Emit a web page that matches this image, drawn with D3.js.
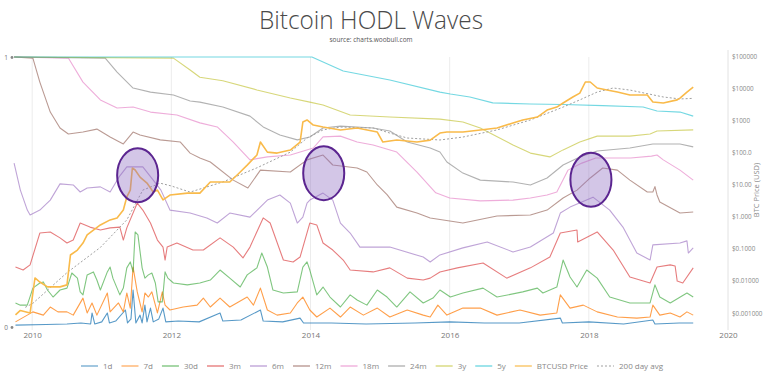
<!DOCTYPE html>
<html><head><meta charset="utf-8">
<script src="https://cdn.jsdelivr.net/npm/d3@7"></script>
<style>body{margin:0;background:#fff;}svg{display:block;font-family:"Open Sans",sans-serif;}</style>
</head><body><svg id="c" width="768" height="379"></svg>
<script>
// ---- data (decimal year, cumulative fraction of supply) ----
const d1d = [[2009.76,0.007],[2010.2,0.009],[2010.5,0.011],[2010.7,0.015],[2010.84,0.011],[2010.86,0.052],[2010.9,0.011],[2011.0,0.019],[2011.08,0.052],[2011.11,0.015],[2011.2,0.022],[2011.34,0.063],[2011.37,0.015],[2011.42,0.03],[2011.45,0.137],[2011.49,0.015],[2011.55,0.044],[2011.58,0.015],[2011.62,0.081],[2011.65,0.019],[2011.7,0.07],[2011.74,0.019],[2011.82,0.03],[2011.88,0.07],[2011.92,0.019],[2012.1,0.022],[2012.4,0.019],[2012.7,0.052],[2012.74,0.022],[2013.0,0.026],[2013.28,0.063],[2013.32,0.022],[2013.6,0.019],[2013.85,0.033],[2013.9,0.015],[2014.3,0.015],[2014.8,0.011],[2015.5,0.015],[2016.0,0.019],[2016.5,0.015],[2017.0,0.015],[2017.59,0.033],[2017.62,0.015],[2018.0,0.019],[2018.5,0.011],[2018.92,0.026],[2018.95,0.011],[2019.3,0.015],[2019.5,0.015]];
const d7d = [[2009.76,0.019],[2009.93,0.044],[2010.01,0.056],[2010.16,0.044],[2010.26,0.074],[2010.37,0.056],[2010.5,0.056],[2010.59,0.044],[2010.73,0.107],[2010.79,0.052],[2010.86,0.089],[2010.93,0.044],[2011.08,0.126],[2011.12,0.056],[2011.24,0.089],[2011.31,0.056],[2011.36,0.126],[2011.41,0.07],[2011.45,0.222],[2011.51,0.13],[2011.58,0.056],[2011.62,0.126],[2011.67,0.111],[2011.72,0.13],[2011.8,0.052],[2011.87,0.13],[2011.91,0.081],[2011.98,0.063],[2012.17,0.074],[2012.37,0.081],[2012.46,0.107],[2012.56,0.074],[2012.7,0.107],[2012.84,0.074],[2013.09,0.111],[2013.18,0.081],[2013.28,0.144],[2013.38,0.063],[2013.52,0.044],[2013.71,0.052],[2013.81,0.089],[2013.89,0.111],[2013.99,0.063],[2014.09,0.037],[2014.28,0.07],[2014.43,0.037],[2014.57,0.074],[2014.76,0.044],[2014.96,0.07],[2015.14,0.037],[2015.39,0.063],[2015.62,0.044],[2015.72,0.037],[2015.83,0.081],[2015.96,0.044],[2016.19,0.07],[2016.44,0.07],[2016.68,0.044],[2017.01,0.063],[2017.3,0.044],[2017.54,0.052],[2017.59,0.119],[2017.73,0.07],[2017.92,0.081],[2018.12,0.056],[2018.41,0.037],[2018.69,0.033],[2018.88,0.037],[2018.92,0.081],[2019.02,0.044],[2019.17,0.052],[2019.31,0.037],[2019.41,0.056],[2019.5,0.044]];
const d30d = [[2009.76,0.089],[2009.83,0.081],[2009.93,0.081],[2010.01,0.144],[2010.11,0.163],[2010.16,0.167],[2010.22,0.137],[2010.3,0.111],[2010.4,0.137],[2010.5,0.144],[2010.57,0.2],[2010.65,0.181],[2010.69,0.13],[2010.73,0.119],[2010.79,0.193],[2010.88,0.204],[2010.93,0.174],[2010.98,0.137],[2011.08,0.204],[2011.12,0.222],[2011.16,0.181],[2011.26,0.119],[2011.31,0.144],[2011.36,0.219],[2011.41,0.241],[2011.45,0.204],[2011.48,0.352],[2011.52,0.341],[2011.58,0.219],[2011.62,0.181],[2011.67,0.193],[2011.72,0.2],[2011.77,0.163],[2011.81,0.093],[2011.87,0.093],[2011.91,0.204],[2011.95,0.181],[2012.03,0.163],[2012.23,0.156],[2012.41,0.163],[2012.56,0.174],[2012.7,0.211],[2012.84,0.181],[2012.99,0.148],[2013.09,0.193],[2013.23,0.219],[2013.3,0.274],[2013.38,0.222],[2013.46,0.137],[2013.61,0.126],[2013.81,0.13],[2013.89,0.222],[2013.95,0.241],[2013.99,0.211],[2014.09,0.119],[2014.18,0.148],[2014.28,0.111],[2014.43,0.074],[2014.57,0.119],[2014.67,0.1],[2014.81,0.081],[2014.96,0.137],[2015.1,0.111],[2015.24,0.074],[2015.43,0.13],[2015.62,0.089],[2015.76,0.107],[2015.86,0.137],[2016.01,0.111],[2016.19,0.126],[2016.48,0.144],[2016.68,0.111],[2017.05,0.13],[2017.26,0.144],[2017.34,0.126],[2017.54,0.148],[2017.63,0.248],[2017.73,0.185],[2017.83,0.148],[2017.97,0.211],[2018.12,0.181],[2018.3,0.111],[2018.59,0.089],[2018.88,0.089],[2018.95,0.156],[2019.02,0.111],[2019.17,0.089],[2019.41,0.126],[2019.5,0.111]];
const d3m = [[2009.76,0.222],[2009.87,0.211],[2009.97,0.23],[2010.11,0.348],[2010.26,0.352],[2010.4,0.33],[2010.5,0.311],[2010.59,0.322],[2010.69,0.385],[2010.83,0.37],[2010.98,0.359],[2011.12,0.367],[2011.26,0.37],[2011.31,0.322],[2011.36,0.367],[2011.51,0.459],[2011.59,0.433],[2011.7,0.385],[2011.8,0.322],[2011.88,0.296],[2011.91,0.248],[2011.94,0.296],[2012.08,0.311],[2012.31,0.285],[2012.46,0.285],[2012.7,0.33],[2012.89,0.296],[2013.03,0.256],[2013.13,0.296],[2013.32,0.404],[2013.42,0.385],[2013.61,0.248],[2013.75,0.241],[2013.85,0.259],[2013.99,0.385],[2014.09,0.378],[2014.18,0.311],[2014.32,0.285],[2014.47,0.248],[2014.57,0.211],[2014.9,0.204],[2015.14,0.219],[2015.39,0.181],[2015.62,0.174],[2015.72,0.181],[2015.86,0.204],[2016.11,0.219],[2016.48,0.237],[2016.82,0.181],[2017.16,0.219],[2017.44,0.259],[2017.59,0.348],[2017.83,0.359],[2017.84,0.315],[2018.12,0.352],[2018.35,0.285],[2018.59,0.185],[2018.88,0.163],[2018.98,0.222],[2019.17,0.23],[2019.24,0.226],[2019.27,0.17],[2019.35,0.163],[2019.5,0.219]];
const d6m = [[2009.74,0.607],[2009.83,0.507],[2009.93,0.433],[2009.97,0.415],[2010.11,0.433],[2010.26,0.47],[2010.4,0.53],[2010.59,0.526],[2010.69,0.5],[2010.79,0.515],[2010.98,0.519],[2011.12,0.5],[2011.26,0.56],[2011.36,0.593],[2011.59,0.593],[2011.74,0.544],[2011.85,0.507],[2011.98,0.433],[2012.27,0.422],[2012.51,0.404],[2012.66,0.385],[2012.84,0.422],[2013.13,0.407],[2013.38,0.47],[2013.56,0.489],[2013.71,0.459],[2013.81,0.385],[2013.89,0.407],[2013.95,0.459],[2013.99,0.47],[2014.18,0.496],[2014.32,0.47],[2014.43,0.385],[2014.57,0.348],[2014.71,0.296],[2015.14,0.296],[2015.62,0.259],[2015.72,0.241],[2015.86,0.267],[2016.19,0.293],[2016.54,0.315],[2016.91,0.278],[2017.16,0.296],[2017.49,0.348],[2017.59,0.422],[2017.73,0.444],[2018.06,0.481],[2018.3,0.433],[2018.49,0.37],[2018.69,0.274],[2018.88,0.248],[2018.92,0.304],[2019.31,0.311],[2019.41,0.319],[2019.43,0.274],[2019.5,0.293]];
const d12m = [[2009.74,1],[2010.01,0.996],[2010.11,0.907],[2010.26,0.796],[2010.4,0.737],[2010.52,0.715],[2010.73,0.722],[2010.93,0.733],[2011.12,0.704],[2011.31,0.678],[2011.45,0.722],[2011.55,0.711],[2011.84,0.693],[2012.13,0.685],[2012.27,0.644],[2012.41,0.626],[2012.56,0.611],[2012.89,0.544],[2013.1,0.515],[2013.28,0.581],[2013.71,0.574],[2013.95,0.619],[2014.18,0.637],[2014.32,0.6],[2014.67,0.589],[2014.81,0.574],[2014.96,0.526],[2015.1,0.49],[2015.24,0.444],[2015.53,0.422],[2015.72,0.404],[2016.19,0.385],[2016.68,0.411],[2017.16,0.415],[2017.4,0.433],[2017.63,0.478],[2017.83,0.507],[2018.02,0.552],[2018.2,0.589],[2018.41,0.581],[2018.59,0.544],[2018.84,0.5],[2018.92,0.5],[2018.95,0.52],[2018.98,0.489],[2019.02,0.463],[2019.31,0.422],[2019.5,0.426]];
const d18m = [[2009.74,1],[2010.52,0.996],[2010.73,0.907],[2010.98,0.841],[2011.22,0.811],[2011.45,0.815],[2011.7,0.796],[2012.08,0.785],[2012.41,0.756],[2012.66,0.741],[2012.89,0.685],[2013.13,0.619],[2013.38,0.63],[2013.71,0.637],[2014.04,0.663],[2014.18,0.704],[2014.43,0.707],[2014.67,0.685],[2014.9,0.674],[2015.24,0.648],[2015.53,0.574],[2015.8,0.497],[2016.0,0.478],[2016.44,0.467],[2016.91,0.47],[2017.16,0.478],[2017.4,0.489],[2017.54,0.5],[2017.7,0.581],[2017.9,0.607],[2018.1,0.626],[2018.6,0.626],[2018.9,0.633],[2018.98,0.637],[2019.07,0.619],[2019.31,0.581],[2019.5,0.544]];
const d24m = [[2009.74,1],[2011.05,0.996],[2011.22,0.944],[2011.45,0.885],[2011.7,0.87],[2012.03,0.859],[2012.27,0.837],[2012.41,0.833],[2012.74,0.815],[2013.13,0.781],[2013.32,0.741],[2013.56,0.711],[2013.81,0.693],[2013.99,0.704],[2014.18,0.737],[2014.43,0.744],[2014.9,0.737],[2015.14,0.726],[2015.39,0.685],[2015.72,0.663],[2015.86,0.648],[2015.96,0.611],[2016.19,0.57],[2016.44,0.544],[2016.91,0.537],[2017.16,0.526],[2017.4,0.552],[2017.63,0.6],[2017.87,0.63],[2018.12,0.652],[2018.59,0.663],[2018.92,0.678],[2019.31,0.678],[2019.5,0.667]];
const d3y = [[2009.74,1],[2012.03,0.996],[2012.27,0.952],[2012.41,0.925],[2012.74,0.912],[2013.23,0.878],[2013.71,0.848],[2013.99,0.833],[2014.18,0.822],[2014.57,0.785],[2015.14,0.778],[2015.86,0.77],[2016.19,0.759],[2016.44,0.737],[2016.91,0.674],[2017.16,0.644],[2017.44,0.63],[2017.63,0.656],[2017.87,0.685],[2018.12,0.707],[2018.59,0.707],[2018.88,0.715],[2018.98,0.726],[2019.5,0.73]];
const d5y = [[2009.74,1],[2014.02,1],[2014.47,0.948],[2015.14,0.915],[2015.86,0.87],[2016.01,0.863],[2016.29,0.852],[2016.62,0.83],[2017.16,0.826],[2017.63,0.824],[2018.2,0.82],[2018.78,0.815],[2018.98,0.8],[2019.31,0.796],[2019.5,0.781]];
// BTC price (USD) and its 200 day average
const btcPrice = [[2009.76,0.00087],[2009.83,0.0012],[2009.97,0.001],[2010.04,0.0123],[2010.11,0.0092],[2010.22,0.0065],[2010.4,0.0065],[2010.5,0.0075],[2010.55,0.064],[2010.65,0.091],[2010.73,0.15],[2010.79,0.27],[2010.88,0.38],[2010.98,0.55],[2011.12,0.79],[2011.22,0.91],[2011.31,1.6],[2011.36,4.1],[2011.41,6.7],[2011.44,32.6],[2011.48,28.3],[2011.55,17],[2011.65,11.1],[2011.74,5.8],[2011.8,6.7],[2011.88,3.3],[2011.98,4.7],[2012.23,5.4],[2012.41,5.4],[2012.56,12],[2012.84,12],[2012.99,24.5],[2013.09,40],[2013.23,83],[2013.28,210],[2013.38,102],[2013.52,95],[2013.71,118],[2013.85,210],[2013.89,880],[2013.95,1020],[2014.04,710],[2014.18,615],[2014.43,500],[2014.67,575],[2014.96,430],[2015.04,210],[2015.24,243],[2015.53,210],[2015.72,240],[2015.86,400],[2015.96,430],[2016.19,430],[2016.44,500],[2016.68,575],[2016.91,820],[2017.05,1020],[2017.26,1260],[2017.4,2080],[2017.54,2570],[2017.63,3450],[2017.77,5300],[2017.87,7000],[2017.95,15500],[2018.02,15500],[2018.12,10100],[2018.26,8700],[2018.41,7550],[2018.59,6100],[2018.84,6100],[2018.92,3700],[2019.07,3450],[2019.27,4300],[2019.31,4900],[2019.41,7550],[2019.5,10800]];
const avg200 = [[2009.9,0.0015],[2010.01,0.002],[2010.5,0.018],[2010.98,0.11],[2011.36,0.79],[2011.59,6.7],[2011.84,11],[2012.0,9],[2012.27,5.8],[2012.74,12],[2013.23,33],[2013.71,102],[2013.95,280],[2014.18,500],[2014.43,615],[2014.9,575],[2015.14,400],[2015.39,280],[2015.86,243],[2016.19,300],[2016.68,500],[2017.16,1020],[2017.63,2570],[2017.87,4300],[2018.12,7550],[2018.35,10100],[2018.59,8700],[2019.07,5300],[2019.31,4600],[2019.5,4800]];

const seriesNames = ["1d","7d","30d","3m","6m","12m","18m","24m","3y","5y"];
const seriesData = [d1d,d7d,d30d,d3m,d6m,d12m,d18m,d24m,d3y,d5y];
const seriesColors = ["#1f77b4","#ff7f0e","#2ca02c","#d62728","#9467bd","#8c564b","#e377c2","#7f7f7f","#bcbd22","#17becf"];
const xTicks = [2010,2012,2014,2016,2018,2020];
const priceTicks = [100000,10000,1000,100,10,1,0.1,0.01,0.001];
const priceTickLabels = ["$100000","$10000","$1000","$100.0","$10.00","$1.000","$0.1000","$0.01000","$0.001000"];
// highlighted regions: [year, price, half-width in years, half-height in decades]
const highlights = [[2011.516,19.3,0.295,0.84],[2014.19,22.5,0.295,0.84],[2018.03,14,0.295,0.84]];

const svg = d3.select("#c");
const x = d3.scaleLinear().domain([2009.71,2020]).range([12,728]);
const yL = d3.scaleLinear().domain([0,1]).range([327,57]);
const yR = d3.scaleLog().domain([0.001,100000]).range([313,56]);

// title
svg.append("text").attr("x",371).attr("y",29).attr("text-anchor","middle")
  .attr("font-size",25).attr("font-weight",300).attr("fill","#4a4a4a")
  .attr("textLength",224).attr("lengthAdjust","spacingAndGlyphs")
  .text("Bitcoin HODL Waves");
svg.append("text").attr("x",371).attr("y",42).attr("text-anchor","middle")
  .attr("font-size",6.5).attr("fill","#555").text("source: charts.woobull.com");

// grid
svg.append("g").selectAll("line").data(xTicks.slice(0,-1)).join("line")
  .attr("x1",d=>x(d)).attr("x2",d=>x(d)).attr("y1",yL(1)).attr("y2",330)
  .attr("stroke","#ececec").attr("stroke-width",1);
svg.append("line").attr("x1",x(2020)).attr("x2",x(2020)).attr("y1",50).attr("y2",330)
  .attr("stroke","#e2e2e2");

// x axis
const xa = svg.append("g").attr("transform","translate(0,327)")
  .call(d3.axisBottom(x).tickValues(xTicks).tickFormat(d3.format("d")).tickSize(0).tickPadding(5));
xa.select(".domain").remove();
xa.selectAll("text").attr("font-size",8).attr("fill","#777").attr("font-family","Open Sans, sans-serif");

// left axis
const yla = svg.append("g").attr("transform","translate(12,0)")
  .call(d3.axisLeft(yL).tickValues([0,1]).tickFormat(d3.format("d")).tickSize(0).tickPadding(4));
yla.select(".domain").remove();
yla.selectAll("text").attr("font-size",6.5).attr("fill","#777").attr("font-family","Open Sans, sans-serif");
yla.selectAll(".tick").append("circle").attr("r",1.4).attr("fill","#888");

// right axis
const yra = svg.append("g").attr("transform","translate(729,0)")
  .call(d3.axisRight(yR).tickValues(priceTicks).tickFormat((d,i)=>priceTickLabels[i]).tickSize(0).tickPadding(3));
yra.select(".domain").remove();
yra.selectAll("text").attr("font-size",6.3).attr("fill","#888").attr("font-family","Open Sans, sans-serif");
svg.append("text").attr("transform","translate(759,190) rotate(-90)").attr("text-anchor","middle")
  .attr("font-size",7.5).attr("fill","#888").text("BTC Price (USD)");

// wave lines
const lineL = d3.line().x(d=>x(d[0])).y(d=>yL(d[1]));
const lineR = d3.line().x(d=>x(d[0])).y(d=>yR(d[1]));
svg.append("g").selectAll("path").data(seriesData).join("path")
  .attr("d",lineL).attr("fill","none")
  .attr("stroke",(d,i)=>seriesColors[i]).attr("stroke-opacity",(d,i)=>i<2?0.75:0.6)
  .attr("stroke-width",1.1).attr("stroke-linejoin","round");

// price + average
svg.append("path").datum(avg200).attr("d",lineR).attr("fill","none")
  .attr("stroke","#a0a0a0").attr("stroke-width",1).attr("stroke-dasharray","2,2");
svg.append("path").datum(btcPrice).attr("d",lineR).attr("fill","none")
  .attr("stroke","#f9ba4a").attr("stroke-width",1.6).attr("stroke-linejoin","round");

// highlight ellipses
svg.append("g").selectAll("ellipse").data(highlights).join("ellipse")
  .attr("cx",d=>x(d[0])).attr("cy",d=>yR(d[1]))
  .attr("rx",d=>x(d[0]+d[2])-x(d[0]))
  .attr("ry",d=>yR(d[1])-yR(d[1]*Math.pow(10,d[3])))
  .attr("fill","#9070c4").attr("fill-opacity",0.4)
  .attr("stroke","#5b2590").attr("stroke-width",2);

// legend
const legItems = seriesNames.map((n,i)=>({name:n,color:seriesColors[i],dash:null,op:0.7}))
  .concat([{name:"BTCUSD Price",color:"#f9ba4a",dash:null,op:1},{name:"200 day avg",color:"#a0a0a0",dash:"2,2",op:1}]);
const leg = svg.append("g");
let cx = 0;
legItems.forEach(it=>{
  const g = leg.append("g").attr("transform",`translate(${cx},0)`);
  g.append("line").attr("x1",0).attr("x2",17).attr("y1",0).attr("y2",0)
    .attr("stroke",it.color).attr("stroke-opacity",it.op).attr("stroke-width",1.2)
    .attr("stroke-dasharray",it.dash);
  const t = g.append("text").attr("x",22).attr("y",0).attr("dy","0.35em")
    .attr("font-size",8).attr("fill","#888").text(it.name);
  cx += 22 + t.node().getComputedTextLength() + 9;
});
const legW = cx - 9;
leg.attr("transform",`translate(${372 - legW/2},366)`);
</script></body></html>
